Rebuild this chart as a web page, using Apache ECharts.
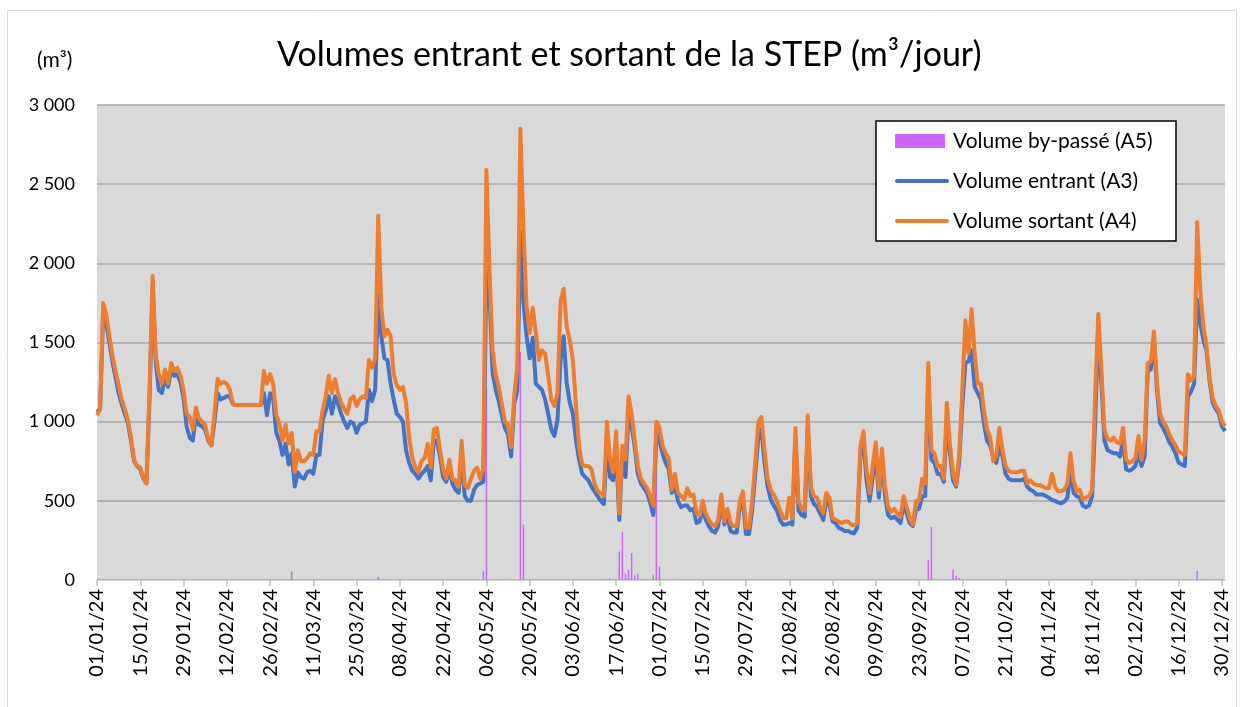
<!DOCTYPE html>
<html lang="fr">
<head>
    <meta charset="UTF-8">
    <title>Volumes entrant et sortant de la STEP</title>
    <script src="https://cdn.jsdelivr.net/npm/echarts@6/dist/echarts.min.js"></script>
    <style>html,body{margin:0;padding:0;background:#fff;}</style>
</head>
<body>
    <div id="main" style="width:1244px;height:707px"></div>
    <script type="application/javascript">
        // valeurs journalieres 2024 (m3/jour)
        var volumeEntrant = [
            1060,1080,1700,1620,1500,1380,1280,1180,1110,1050,
            990,880,750,720,700,640,610,1150,1850,1380,
            1200,1180,1280,1220,1330,1290,1300,1250,1150,970,
            900,880,1040,980,970,950,880,850,1000,1180,
            1140,1150,1160,1160,1110,1105,1105,1105,1105,1105,
            1105,1105,1105,1105,1180,1040,1180,1150,930,880,
            790,860,730,800,590,680,650,640,680,690,
            670,790,790,1010,1070,1160,1050,1160,1110,1050,
            1000,960,1000,990,930,980,990,1000,1200,1130,
            1200,1800,1540,1400,1390,1240,1140,1050,1030,1000,
            820,740,690,670,640,670,690,720,630,880,
            880,780,650,620,700,610,570,550,760,530,
            500,500,570,600,610,620,1950,1810,1310,1200,
            1130,1040,960,920,780,1110,1200,2200,1750,1540,
            1400,1530,1240,1220,1200,1140,1050,950,910,1010,
            1390,1540,1240,1120,1050,880,760,670,650,630,
            590,560,530,500,480,880,650,630,820,380,
            800,650,1050,970,840,670,610,580,550,490,
            410,930,880,800,740,700,550,590,500,460,
            470,470,440,450,360,370,440,380,340,310,
            300,340,500,350,400,310,300,300,460,500,
            290,290,440,670,900,950,740,590,510,470,
            440,380,350,350,360,350,900,440,410,400,
            970,530,480,460,420,380,500,480,370,360,
            330,320,310,310,300,295,330,780,880,630,
            500,650,800,520,780,530,410,390,400,380,
            360,480,420,360,340,440,450,530,530,1250,
            760,740,670,670,620,1010,800,630,590,750,
            1100,1370,1380,1450,1220,1180,1140,990,880,850,
            780,740,840,780,670,640,630,630,630,630,
            640,590,570,560,540,540,540,530,520,505,
            500,490,485,495,520,700,550,530,520,470,
            460,470,530,1000,1600,1240,880,820,810,800,
            800,780,880,700,690,700,720,800,720,780,
            1320,1330,1520,1200,990,960,920,870,840,800,
            740,730,720,1160,1190,1240,1770,1620,1520,1450,
            1260,1120,1080,1050,970,940
        ];
        var volumeSortant = [
            1040,1080,1750,1680,1540,1420,1320,1230,1140,1080,
            1010,900,760,720,710,650,610,1200,1920,1420,
            1300,1240,1330,1240,1370,1320,1340,1290,1200,1050,
            1030,950,1090,1020,1000,980,890,850,1050,1270,
            1240,1250,1240,1200,1110,1105,1105,1105,1105,1105,
            1105,1105,1105,1105,1320,1240,1300,1240,1040,990,
            880,980,860,930,680,820,750,750,770,800,
            790,940,940,1070,1160,1290,1180,1270,1180,1120,
            1080,1050,1140,1160,1100,1140,1160,1150,1390,1340,
            1400,2300,1720,1540,1580,1540,1300,1230,1200,1220,
            1120,900,780,710,680,750,770,860,710,950,
            960,820,700,640,760,640,630,590,880,600,
            580,640,690,710,640,700,2590,1960,1450,1300,
            1220,1110,1000,980,840,1160,1350,2850,2210,1730,
            1560,1720,1560,1390,1450,1430,1290,1140,1100,1180,
            1760,1840,1600,1510,1390,1100,840,730,720,720,
            700,610,560,550,530,1000,760,680,940,420,
            850,760,1160,1050,880,720,640,610,580,530,
            470,1000,960,850,800,770,570,670,550,530,
            510,580,530,540,420,410,500,420,380,350,
            340,380,540,370,450,360,340,340,500,560,
            330,330,500,740,1000,1030,820,640,570,540,
            500,440,390,390,520,390,960,500,450,440,
            1040,590,530,520,460,420,550,520,390,380,
            370,360,370,370,350,345,360,840,940,700,
            550,720,870,570,830,590,460,430,450,420,
            400,530,460,390,350,500,500,640,610,1370,
            820,800,720,720,640,1120,850,680,600,800,
            1200,1640,1430,1710,1430,1240,1240,1070,950,900,
            750,780,960,820,720,690,680,680,680,690,
            690,610,630,610,600,600,590,580,580,670,
            590,560,560,570,610,800,630,560,570,510,
            520,530,570,1180,1680,1330,950,890,880,900,
            870,860,960,760,740,750,770,910,760,880,
            1370,1380,1570,1240,1050,1000,970,920,880,850,
            810,800,790,1300,1260,1280,2260,1830,1600,1480,
            1280,1150,1100,1070,1000,970
        ];
        // by-pass : rang du jour dans l'annee (0 = 01/01) et volume
        var bypassDays   = [63, 91, 125, 126, 137, 138, 166, 169, 170, 171, 172, 173, 174, 175, 180, 181, 182, 269, 270, 277, 278, 279, 356];
        var bypassValues = [55, 20, 55, 1210, 1440, 350, 10, 180, 305, 40, 65, 170, 30, 40, 30, 980, 85, 125, 335, 65, 25, 12, 55];

        var nomBypass = 'Volume by-passé (A5)';
        var nomEntrant = 'Volume entrant (A3)';
        var nomSortant = 'Volume sortant (A4)';
        var couleurBypass = '#cc66ff';
        var couleurEntrant = '#4472c4';
        var couleurSortant = '#ed7d31';
        var police = 'Lato, "Noto Sans", sans-serif';

        function pad(n) { return (n < 10 ? '0' : '') + n; }

        var dates = [];
        var bypass = [];
        for (var i = 0; i < volumeEntrant.length; i++) {
            var d = new Date(2024, 0, 1 + i);
            dates.push(pad(d.getDate()) + '/' + pad(d.getMonth() + 1) + '/' + String(d.getFullYear()).slice(2));
            bypass.push(0);
        }
        for (var j = 0; j < bypassDays.length; j++) {
            bypass[bypassDays[j]] = bypassValues[j];
        }

        // legende dessinee a la main (cadre noir, traits sans symbole)
        function legendText(y, txt) {
            return {
                type: 'text', z: 101, silent: true, x: 953, y: y,
                style: { text: txt, fontSize: 21, fill: '#000', fontFamily: police, verticalAlign: 'middle' }
            };
        }
        function legendLine(y, color) {
            return {
                type: 'line', z: 101, silent: true,
                shape: { x1: 897, y1: y, x2: 947, y2: y },
                style: { stroke: color, lineWidth: 4, lineCap: 'round' }
            };
        }

        var myChart = echarts.init(document.getElementById('main'));
        var option = {
            animation: false,
            textStyle: { fontFamily: police },
            title: {
                text: 'Volumes entrant et sortant de la STEP (m³/jour)',
                left: 272,
                top: 33,
                textStyle: { fontSize: 34, fontWeight: 'normal', color: '#000', fontFamily: police }
            },
            legend: { show: false },
            graphic: [
                {
                    type: 'rect', z: 0, silent: true,
                    shape: { x: 7.5, y: 10.5, width: 1229, height: 700 },
                    style: { fill: 'none', stroke: '#d9d9d9', lineWidth: 1 }
                },
                {
                    type: 'text', x: 37, y: 60, silent: true,
                    style: { text: '(m³)', fontSize: 21, fill: '#000', fontFamily: police, verticalAlign: 'middle' }
                },
                {
                    type: 'rect', z: 100, silent: true,
                    shape: { x: 876, y: 121, width: 300, height: 120 },
                    style: { fill: '#fff', stroke: '#000', lineWidth: 1.5 }
                },
                {
                    type: 'rect', z: 101, silent: true,
                    shape: { x: 895, y: 134, width: 50, height: 14 },
                    style: { fill: couleurBypass }
                },
                legendText(141, nomBypass),
                legendLine(181, couleurEntrant),
                legendText(181, nomEntrant),
                legendLine(221, couleurSortant),
                legendText(221, nomSortant)
            ],
            grid: { left: 97, right: 19, top: 105, bottom: 127 },
            xAxis: {
                type: 'category',
                boundaryGap: false,
                data: dates,
                axisLine: { lineStyle: { color: '#d9d9d9', width: 1 } },
                axisTick: {
                    interval: function (i) { return i % 14 === 0; },
                    length: 6,
                    lineStyle: { color: '#bfbfbf', width: 1.5 }
                },
                axisLabel: {
                    interval: function (i) { return i % 14 === 0; },
                    rotate: 90,
                    margin: 9,
                    fontSize: 20,
                    color: '#000',
                    fontFamily: police
                }
            },
            yAxis: {
                type: 'value',
                min: 0,
                max: 3000,
                interval: 500,
                axisLine: { show: false },
                axisTick: { show: false },
                axisLabel: {
                    margin: 22,
                    fontSize: 18,
                    color: '#000',
                    fontFamily: police,
                    formatter: function (v) { return String(v).replace(/\B(?=(\d{3})+(?!\d))/g, ' '); }
                },
                splitLine: { lineStyle: { color: '#a6a6a6', width: 1.5 } },
                splitArea: { show: true, areaStyle: { color: ['#d9d9d9', '#d9d9d9'] } }
            },
            series: [
                {
                    name: nomBypass,
                    type: 'bar',
                    data: bypass,
                    barWidth: 1.5,
                    itemStyle: { color: couleurBypass }
                },
                {
                    name: nomEntrant,
                    type: 'line',
                    data: volumeEntrant,
                    symbol: 'none',
                    lineStyle: { color: couleurEntrant, width: 4, join: 'round' },
                    itemStyle: { color: couleurEntrant }
                },
                {
                    name: nomSortant,
                    type: 'line',
                    data: volumeSortant,
                    symbol: 'none',
                    lineStyle: { color: couleurSortant, width: 4, join: 'round' },
                    itemStyle: { color: couleurSortant }
                }
            ]
        };
        myChart.setOption(option);
    </script>
</body>
</html>
